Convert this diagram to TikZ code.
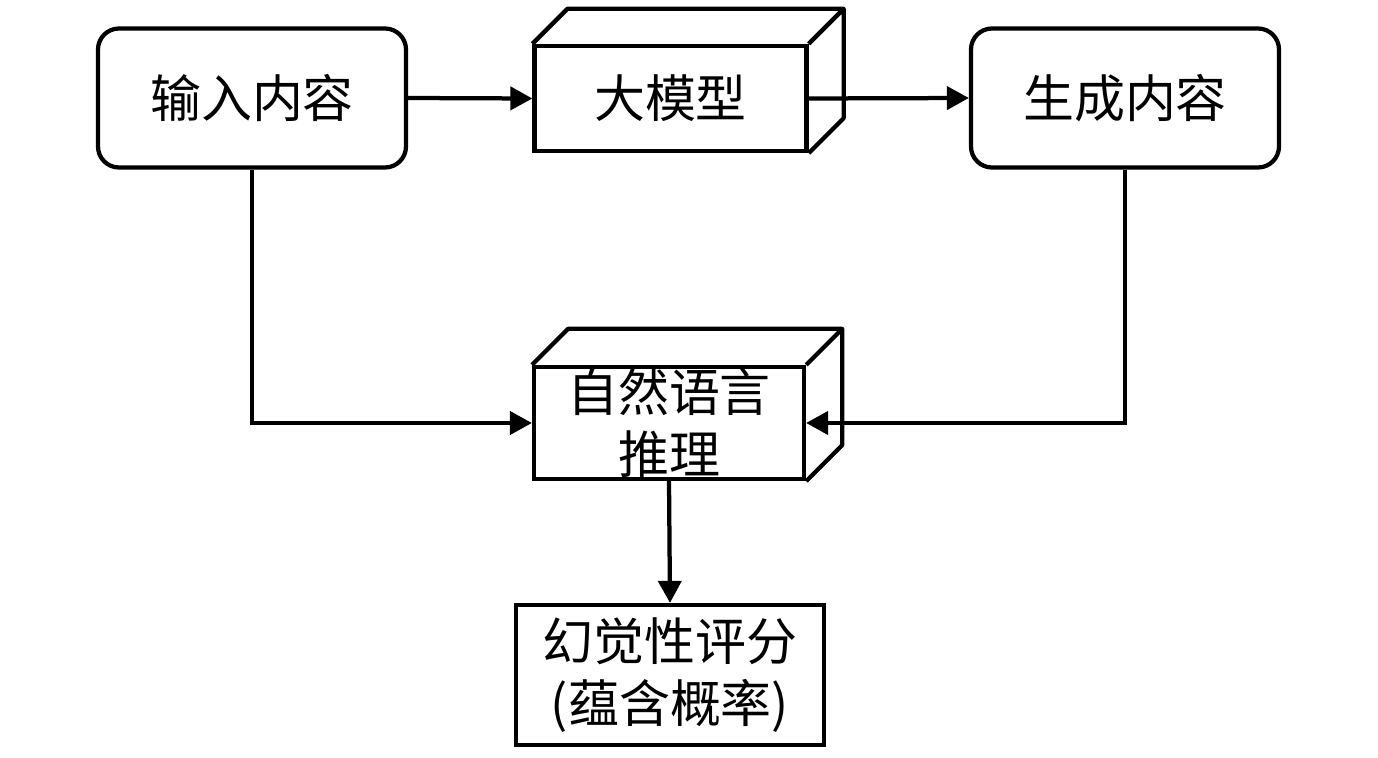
\documentclass[tikz,border=0pt]{standalone}
\usepackage{fontspec}
\newfontfamily\cjk{Noto Sans CJK SC}
\usetikzlibrary{positioning,arrows.meta}

\begin{document}
\begin{tikzpicture}[>={Triangle[length=0.44cm,width=0.46cm]},line width=0.085cm,
  every node/.style={font=\cjk\fontsize{29}{35}\selectfont,align=center,inner sep=0pt},
  rbox/.style={draw,rounded corners=0.42cm,minimum width=6.16cm,minimum height=2.78cm},
  front/.style={draw,minimum width=5.44cm,minimum height=2.14cm},
  sbox/.style={draw,minimum width=6.16cm,minimum height=2.8cm}]
\useasboundingbox (0,0) rectangle (27.56,-15.16);
\node[rbox] (in) at (5.04,-1.96) {输入内容};
\node[front,minimum height=2.1cm] (llm) at (13.41,-1.97) {大模型};
\node[rbox] (out) at (22.5,-1.96) {生成内容};
\node[front,minimum height=2.24cm,minimum width=5.4cm] (nli) at (13.38,-8.46) {自然语言\\推理};
\node[sbox] (score) at (13.4,-13.5) {幻觉性评分\\(蕴含概率)};
% depth of the two boxes
\draw[line join=round] (llm.north west) -- ++(0.7,0.7) -- ([shift={(0.7,0.7)}]llm.north east)
  -- ([shift={(0.7,0.7)}]llm.south east) -- (llm.south east) (llm.north east) -- ++(0.7,0.7);
\draw[line join=round] (nli.north west) -- ++(0.72,0.72) -- ([shift={(0.72,0.72)}]nli.north east)
  -- ([shift={(0.72,0.72)}]nli.south east) -- (nli.south east) (nli.north east) -- ++(0.72,0.72);
% arrows
\draw[->] (in.east) -- (llm.west);
\draw[->] (llm.east) -- (out.west);
\draw[->] (in.south) |- (nli.west);
\draw[->] (out.south) |- (nli.east);
\draw[->] (nli.south) -- (score.north);
\end{tikzpicture}
\end{document}
